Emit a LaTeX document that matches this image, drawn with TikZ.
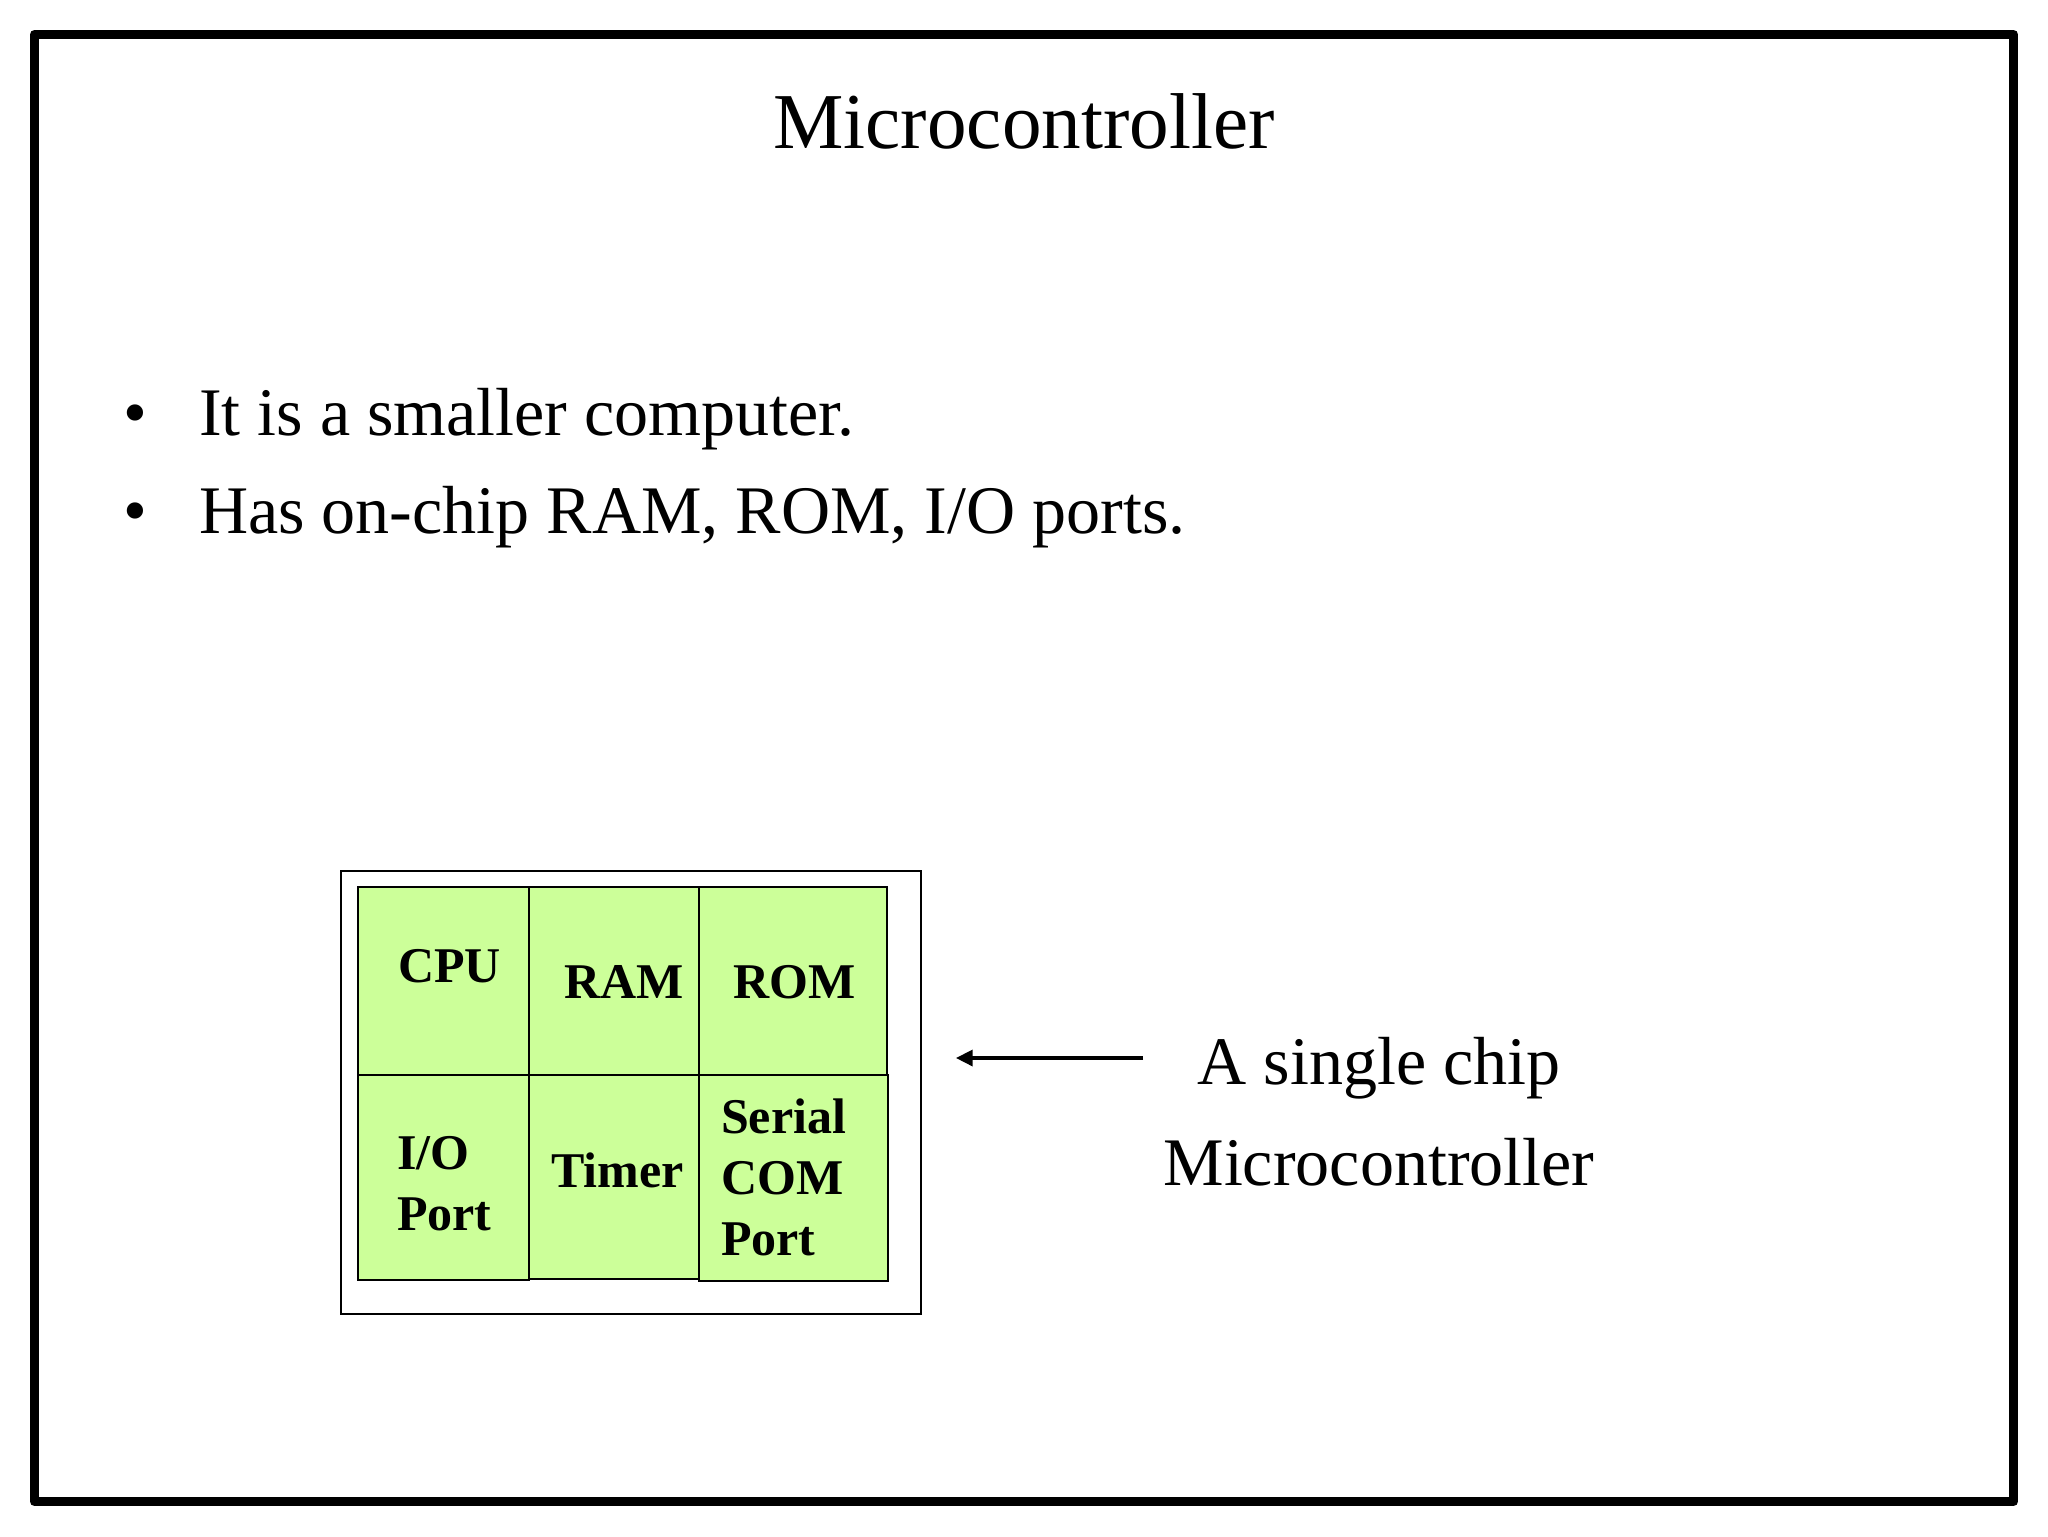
\documentclass[tikz,border=0pt]{standalone}
\usepackage{fontspec}
\setmainfont{Liberation Serif}
\usetikzlibrary{arrows.meta,fit}
\definecolor{chipgreen}{RGB}{204,255,153}
\tikzset{
  txt/.style={inner sep=0pt, outer sep=0pt},
  titlefont/.style={txt, font=\fontsize{28.5pt}{34pt}\selectfont},
  bodyfont/.style={txt, font=\fontsize{24.5pt}{36.7pt}\selectfont},
  cellfont/.style={txt, anchor=base west, font=\bfseries\fontsize{18pt}{22.3pt}\selectfont},
  cell/.style={draw=black, fill=chipgreen, line width=0.85pt, inner sep=0pt, outer sep=0pt},
  chipbox/.style={draw=black, line width=0.75pt, inner sep=0pt},
  frame/.style={draw=black, line width=3.24pt, line join=round},
  pointer/.style={draw=black, line width=1.1pt, -{Triangle[length=6pt,width=5.8pt]}}
}
\begin{document}
\begin{tikzpicture}[x=0.36pt,y=-0.36pt]
\useasboundingbox (0,0) rectangle (2048,1536);
\fill[white] (0,0) rectangle (2048,1536);
% outer frame
\draw[frame] (34.5,34.5) rectangle (2013.5,1501.5);
% title
\node[titlefont, anchor=base] (title) at (1024,148) {Microcontroller};
% bullets
\node[bodyfont, anchor=base] (b1) at (135,435) {•};
\node[bodyfont, anchor=base west] (t1) at (199,435) {It is a smaller computer.};
\node[bodyfont, anchor=base] (b2) at (135,533) {•};
\node[bodyfont, anchor=base west] (t2) at (199,533) {Has on-chip RAM, ROM, I/O ports.};
% chip outline
\node[chipbox, fit={(341,871)(921,1314)}] (chip) {};
% cells
\coordinate (c1a) at (358,887);  \coordinate (c1b) at (529,1075);
\coordinate (c2a) at (529,887);  \coordinate (c2b) at (699,1075);
\coordinate (c3a) at (699,887);  \coordinate (c3b) at (887,1075);
\coordinate (c4a) at (358,1075); \coordinate (c4b) at (529,1280);
\coordinate (c5a) at (529,1075); \coordinate (c5b) at (699,1279);
\coordinate (c6a) at (699,1075); \coordinate (c6b) at (888,1281);
\node[cell, fit={(c1a)(c1b)}] (cpu) {};
\node[cell, fit={(c2a)(c2b)}] (ram) {};
\node[cell, fit={(c3a)(c3b)}] (rom) {};
\node[cell, fit={(c4a)(c4b)}] (io) {};
\node[cell, fit={(c5a)(c5b)}] (timer) {};
\node[cell, fit={(c6a)(c6b)}] (serial) {};
% cell labels
\node[cellfont] (cpul) at (398,982) {CPU};
\node[cellfont] (raml) at (564,998) {RAM};
\node[cellfont] (roml) at (733,998) {ROM};
\node[cellfont] (iol) at (397,1169) {\begin{tabular}[t]{@{}l@{}}I/O\\Port\end{tabular}};
\node[cellfont] (timerl) at (551,1187) {Timer};
\node[cellfont, font=\bfseries\fontsize{18pt}{22pt}\selectfont] (seriall) at (721,1133) {\begin{tabular}[t]{@{}l@{}}Serial\\COM\\Port\end{tabular}};
% pointer and caption
\node[bodyfont, anchor=base] (caption) at (1379,1084) {\begin{tabular}[t]{@{}c@{}}A single chip\\Microcontroller\end{tabular}};
\coordinate (arrS) at (1143,1058);
\coordinate (arrE) at (956,1058);
\draw[pointer] (arrS) -- (arrE);
\end{tikzpicture}
\end{document}
